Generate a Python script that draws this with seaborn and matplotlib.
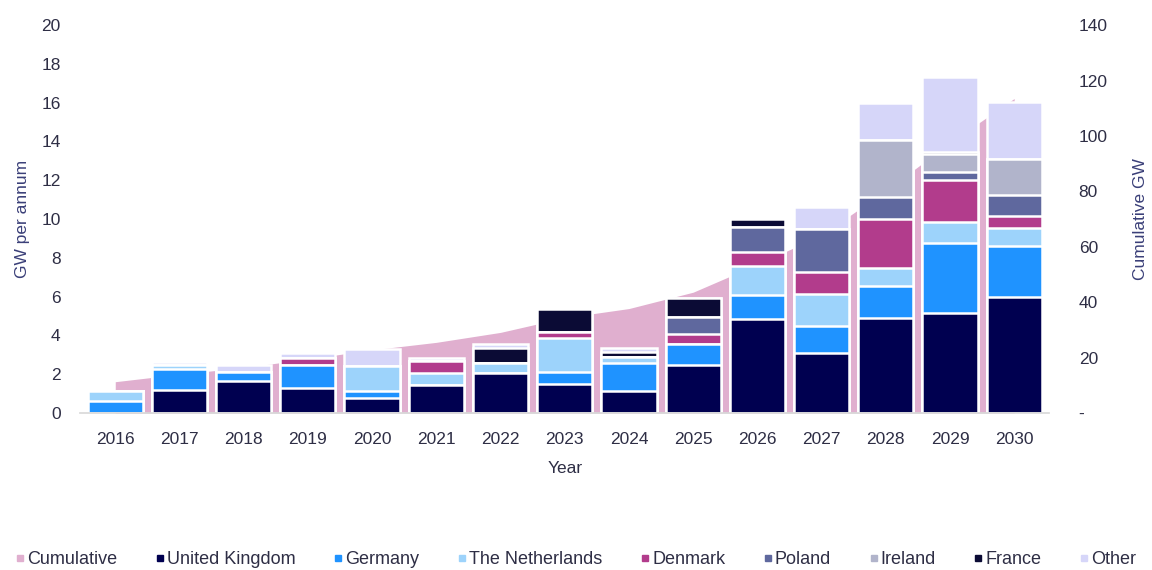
import seaborn as sns
import matplotlib.pyplot as plt
from matplotlib.lines import Line2D
import numpy as np

# annual additions (GW)
years = list(range(2016, 2031))
uk = [0, 1.19, 1.66, 1.27, 0.76, 1.44, 2.05, 1.49, 1.15, 2.47, 4.83, 3.08, 4.88, 5.17, 6.00]
germany = [0.62, 1.08, 0.47, 1.20, 0.39, 0, 0, 0.64, 1.41, 1.09, 1.25, 1.40, 1.67, 3.61, 2.61]
netherlands = [0.51, 0.18, 0, 0, 1.27, 0.61, 0.54, 1.72, 0.34, 0, 1.50, 1.65, 0.91, 1.08, 0.91]
denmark = [0, 0, 0, 0.38, 0, 0.62, 0, 0.34, 0, 0.51, 0.73, 1.15, 2.52, 2.15, 0.63]
poland = [0, 0, 0, 0, 0, 0, 0, 0, 0, 0.89, 1.26, 2.19, 1.14, 0.43, 1.09]
ireland = [0, 0, 0, 0, 0, 0, 0, 0, 0, 0, 0, 0, 2.98, 0.91, 1.84]
france = [0, 0, 0, 0, 0, 0, 0.78, 1.17, 0.26, 0.95, 0.41, 0, 0, 0.12, 0]
other = [0, 0.19, 0.34, 0.26, 0.86, 0.15, 0.20, 0, 0.17, 0, 0, 1.16, 1.86, 3.83, 2.97]
# cumulative installed capacity (GW, right axis)
cumulative = [11.3, 14.0, 16.4, 19.5, 22.8, 25.5, 29.1, 34.4, 37.7, 43.6, 53.6, 64.2, 80.2, 97.5, 113.5]

series = [
    ('United Kingdom', uk, '#000050'),
    ('Germany', germany, '#1f93ff'),
    ('The Netherlands', netherlands, '#9dd3fb'),
    ('Denmark', denmark, '#b23c8c'),
    ('Poland', poland, '#5f689e'),
    ('Ireland', ireland, '#b1b4cb'),
    ('France', france, '#0b0b35'),
    ('Other', other, '#d6d6f9'),
]
cum_color = '#e0afcf'
txt = '#2e2e45'
lab = '#3a3f78'

sns.set_theme(style='white')
plt.rcParams['font.family'] = ['Liberation Sans', 'DejaVu Sans']

fig = plt.figure(figsize=(11.52, 5.7), dpi=100)
ax = fig.add_axes([0.0694, 0.2754, 0.8416, 0.6806])
ax2 = ax.twinx()

# cumulative area on the right axis, behind the bars
x = np.arange(len(years))
ax2.fill_between(x, cumulative, color=cum_color, linewidth=0)
ax2.set_ylim(0, 140)
ax2.set_yticks(range(0, 141, 20))
ax2.set_yticklabels(['-'] + [str(v) for v in range(20, 141, 20)])
ax2.set_ylabel('Cumulative GW', color=lab, fontsize=12.5, labelpad=18)

# stacked bars: draw tallest stack first, then overlay lower stacks
tops = np.cumsum([s[1] for s in series], axis=0)
for i in range(len(series) - 1, -1, -1):
    sns.barplot(x=years, y=tops[i], color=series[i][2], width=0.86,
                edgecolor='white', linewidth=1.8, saturation=1, ax=ax)

ax.set_zorder(ax2.get_zorder() + 1)
ax.patch.set_visible(False)
ax.set_xlim(-0.55, 14.55)
ax.set_ylim(0, 20)
ax.set_yticks(range(0, 21, 2))
ax.set_ylabel('GW per annum', color=lab, fontsize=12.5, labelpad=8)
ax.set_xlabel('Year', color=txt, fontsize=12.5, labelpad=10)

for a in (ax, ax2):
    for sp in a.spines.values():
        sp.set_visible(False)
    a.tick_params(length=0, labelsize=12.5, labelcolor=txt)
ax.spines['bottom'].set_visible(True)
ax.spines['bottom'].set_color('#d9d9d9')
ax.tick_params(axis='y', pad=14)
ax.tick_params(axis='x', pad=14)
ax2.tick_params(axis='y', pad=21)

handles = [Line2D([], [], marker='s', linestyle='none', markersize=5,
                  color=cum_color, label='Cumulative')]
for name, vals, col in series:
    handles.append(Line2D([], [], marker='s', linestyle='none', markersize=5,
                          color=col, label=name))
fig.legend(handles=handles, loc='lower center', bbox_to_anchor=(0.5, -0.025),
           ncol=9, frameon=False, fontsize=13, handlelength=0.5,
           handletextpad=0.15, columnspacing=2.1, labelcolor=txt)

plt.savefig('out.png', dpi=100)
plt.close()
